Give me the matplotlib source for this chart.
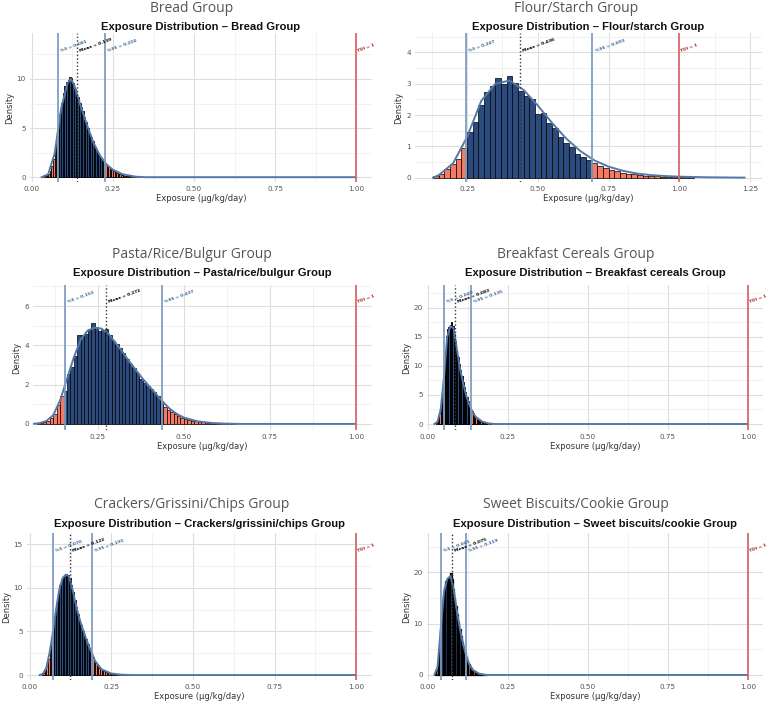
import matplotlib
matplotlib.use("Agg")
import matplotlib.pyplot as plt
from matplotlib.ticker import FixedLocator

# ---------------- data ----------------
group_titles = ["Bread Group", "Flour/Starch Group", "Pasta/Rice/Bulgur Group",
                "Breakfast Cereals Group", "Crackers/Grissini/Chips Group",
                "Sweet Biscuits/Cookie Group"]
group_names = ["Bread", "Flour/starch", "Pasta/rice/bulgur",
               "Breakfast cereals", "Crackers/grissini/chips", "Sweet biscuits/cookie"]

tdi = 1.0

p5_values = [0.081, 0.247, 0.153, 0.049, 0.070, 0.041]
mean_values = [0.139, 0.436, 0.272, 0.083, 0.122, 0.075]
p95_values = [0.224, 0.693, 0.437, 0.135, 0.191, 0.119]

bin_starts = [0.030, 0.130, 0.070, 0.024, 0.035, 0.022]
bin_widths = [0.005, 0.020, 0.010, 0.004, 0.005, 0.004]

bread_heights = [0.02, 0.05, 0.1, 0.2, 0.35, 0.6, 1.1, 1.9, 2.8, 3.6, 4.9, 6.4, 7.6, 8.6, 9.3,
                 9.7, 9.9, 10.2, 10.1, 9.6, 9.0, 8.5, 8.2, 7.6, 7.1, 6.7, 6.1, 5.6, 5.0, 4.5,
                 4.1, 3.7, 3.3, 2.9, 2.6, 2.3, 2.0, 1.8, 1.6, 1.35, 1.15, 1.0, 0.85, 0.72, 0.6,
                 0.5, 0.42, 0.35, 0.28, 0.23, 0.18, 0.14, 0.11, 0.09, 0.07, 0.05, 0.04, 0.03,
                 0.02, 0.01]
flour_heights = [0.05, 0.13, 0.28, 0.45, 0.58, 0.94, 1.45, 1.78, 2.33, 2.74, 2.92, 3.18, 3.0,
                 3.24, 3.02, 2.76, 2.6, 2.52, 2.02, 2.05, 1.73, 1.57, 1.3, 1.1, 0.99, 0.75,
                 0.67, 0.56, 0.47, 0.38, 0.31, 0.25, 0.2, 0.16, 0.13, 0.1, 0.08, 0.065, 0.05,
                 0.04, 0.03, 0.025, 0.02, 0.015, 0.012, 0.008]
pasta_heights = [0.02, 0.05, 0.1, 0.17, 0.3, 0.5, 0.95, 1.4, 1.65, 2.55, 2.9, 3.45, 4.5, 4.55,
                 4.6, 4.85, 5.15, 4.95, 4.75, 4.8, 4.85, 4.5, 4.2, 4.05, 3.85, 3.6, 3.3, 3.05,
                 2.85, 2.6, 2.3, 2.1, 1.95, 1.8, 1.6, 1.4, 1.15, 0.85, 0.72, 0.6, 0.5, 0.4,
                 0.32, 0.26, 0.2, 0.16, 0.13, 0.1, 0.08, 0.06, 0.045, 0.035, 0.025, 0.02,
                 0.015, 0.01, 0.008, 0.005]
cereal_heights = [0.1, 0.35, 0.9, 1.9, 3.3, 5.0, 8.5, 12.0, 15.2, 16.3, 16.6, 17.0, 17.5, 16.8,
                  15.5, 14.2, 12.8, 11.6, 10.4, 9.3, 8.3, 7.3, 6.4, 5.5, 4.7, 4.0, 3.4, 2.8,
                  2.3, 1.85, 1.45, 1.15, 0.9, 0.7, 0.52, 0.4, 0.3, 0.22, 0.16, 0.11, 0.08,
                  0.05, 0.03, 0.02]
cracker_heights = [0.05, 0.2, 0.5, 1.0, 1.8, 2.9, 4.2, 5.4, 6.8, 8.2, 9.4, 10.3, 10.9, 11.3,
                   11.5, 11.6, 11.5, 11.1, 10.3, 9.5, 8.6, 7.8, 7.0, 6.3, 5.7, 5.1, 4.6, 4.1,
                   3.6, 3.1, 2.6, 2.1, 1.7, 1.35, 1.05, 0.85, 0.68, 0.55, 0.44, 0.35, 0.28,
                   0.22, 0.17, 0.13, 0.1, 0.08, 0.06, 0.05, 0.04, 0.03, 0.02, 0.015, 0.01,
                   0.008, 0.005]
biscuit_heights = [0.2, 0.9, 2.5, 5.5, 9.0, 12.5, 15.2, 17.2, 18.3, 18.8, 19.0, 19.2, 19.8,
                   18.8, 16.8, 15.0, 13.4, 11.9, 10.4, 9.0, 7.7, 6.5, 5.4, 4.4, 3.5, 2.8, 2.2,
                   1.7, 1.3, 1.0, 0.75, 0.56, 0.42, 0.32, 0.24, 0.17, 0.12, 0.08, 0.05, 0.03,
                   0.02]

bread_density_x = [0.03, 0.05, 0.07, 0.09, 0.11, 0.12, 0.13, 0.15, 0.17, 0.19, 0.21, 0.23,
                   0.25, 0.28, 0.32, 0.35, 1.0]
bread_density_y = [0, 0.3, 2.4, 7.0, 9.6, 10.0, 9.4, 7.3, 5.3, 3.5, 2.2, 1.3, 0.75, 0.3,
                   0.05, 0, 0]
flour_density_x = [0.13, 0.15, 0.2, 0.25, 0.3, 0.35, 0.4, 0.45, 0.5, 0.55, 0.6, 0.65, 0.7,
                   0.75, 0.8, 0.85, 0.9, 0.95, 1.0, 1.1, 1.23]
flour_density_y = [0, 0.08, 0.45, 1.3, 2.45, 3.0, 3.1, 2.8, 2.3, 1.75, 1.25, 0.85, 0.55,
                   0.35, 0.22, 0.13, 0.08, 0.05, 0.03, 0.01, 0.0]
pasta_density_x = [0.06, 0.08, 0.10, 0.12, 0.14, 0.16, 0.18, 0.20, 0.22, 0.24, 0.26, 0.28,
                   0.30, 0.32, 0.34, 0.36, 0.38, 0.40, 0.42, 0.44, 0.46, 0.48, 0.50, 0.54,
                   0.58, 0.62, 0.66, 1.0]
pasta_density_y = [0, 0.04, 0.15, 0.45, 1.2, 2.3, 3.4, 4.3, 4.75, 4.9, 4.85, 4.6, 4.15, 3.7,
                   3.2, 2.75, 2.3, 1.9, 1.5, 1.1, 0.75, 0.5, 0.32, 0.13, 0.05, 0.015, 0, 0]
cereal_density_x = [0.02, 0.03, 0.04, 0.05, 0.06, 0.07, 0.08, 0.09, 0.10, 0.11, 0.12, 0.13,
                    0.14, 0.15, 0.17, 0.19, 0.21, 1.0]
cereal_density_y = [0, 0.4, 2.6, 8.0, 15.0, 16.8, 16.5, 13.0, 9.6, 7.0, 4.8, 3.2, 2.0, 1.2,
                    0.4, 0.1, 0, 0]
cracker_density_x = [0.03, 0.04, 0.05, 0.06, 0.07, 0.08, 0.09, 0.10, 0.11, 0.12, 0.13, 0.14,
                     0.15, 0.16, 0.17, 0.18, 0.20, 0.22, 0.25, 0.28, 0.31, 1.0]
cracker_density_y = [0, 0.15, 0.8, 2.5, 4.8, 7.5, 9.8, 11.1, 11.5, 11.3, 9.9, 8.2, 6.7, 5.5,
                     4.4, 3.4, 1.6, 0.65, 0.17, 0.04, 0, 0]
biscuit_density_x = [0.02, 0.03, 0.04, 0.05, 0.06, 0.07, 0.08, 0.09, 0.10, 0.11, 0.12, 0.13,
                     0.14, 0.16, 0.18, 0.19, 1.0]
biscuit_density_y = [0, 1.6, 9.0, 16.2, 18.7, 19.3, 16.9, 12.6, 9.0, 6.0, 3.6, 2.0, 1.0, 0.25,
                     0.04, 0, 0]

all_heights = [bread_heights, flour_heights, pasta_heights,
               cereal_heights, cracker_heights, biscuit_heights]
all_density_x = [bread_density_x, flour_density_x, pasta_density_x,
                 cereal_density_x, cracker_density_x, biscuit_density_x]
all_density_y = [bread_density_y, flour_density_y, pasta_density_y,
                 cereal_density_y, cracker_density_y, biscuit_density_y]

# ---------------- layout (pixels) ----------------
W, H = 767, 705
# left, top, right, bottom of the plot panel
panel_px = [(30, 33, 372, 182), (415, 33, 762, 182),
            (33, 285, 372, 430), (427, 285, 763, 430),
            (27, 533, 372, 680), (427, 533, 763, 680)]
xlims = [(-0.006, 1.049), (0.066, 1.292), (0.061, 1.047),
         (-0.003, 1.047), (-0.009, 1.049), (-0.003, 1.047)]
ylims = [(-0.49, 14.68), (-0.14, 4.62), (-0.31, 7.07),
         (-1.03, 23.9), (-0.57, 16.27), (-0.98, 27.7)]
xticks_major = [[0, 0.25, 0.5, 0.75, 1.0], [0.25, 0.5, 0.75, 1.0, 1.25],
                [0.25, 0.5, 0.75, 1.0], [0, 0.25, 0.5, 0.75, 1.0],
                [0, 0.25, 0.5, 0.75, 1.0], [0, 0.25, 0.5, 0.75, 1.0]]
yticks_major = [[0, 5, 10], [0, 1, 2, 3, 4], [0, 2, 4, 6],
                [0, 5, 10, 15, 20], [0, 5, 10, 15], [0, 10, 20]]
edge_widths = [0.6, 0.5, 0.5, 0.65, 0.6, 0.9]
title_y = [9, 9, 255, 255, 505, 505]
subtitle_y = [27, 27, 273, 273, 524, 524]
col_center = [192, 576, 192, 576, 192, 576]

BLUE = "#2b4b7f"
SALMON = "#f47a63"
LINE_BLUE = "#7f9dc2"
DENS_BLUE = "#5479a6"
TDI_RED = "#d86a6a"
GRID = "#dedede"
GRID_MINOR = "#ececec"

fig = plt.figure(figsize=(W / 100, H / 100), dpi=100)
fig.patch.set_facecolor("white")

for i in range(6):
    l, t, r, b = panel_px[i]
    ax = fig.add_axes([l / W, 1 - b / H, (r - l) / W, (b - t) / H])
    ax.set_xlim(*xlims[i])
    ax.set_ylim(*ylims[i])

    heights = all_heights[i]
    lefts = [bin_starts[i] + k * bin_widths[i] for k in range(len(heights))]
    colors = []
    for x0 in lefts:
        c = x0 + bin_widths[i] / 2
        colors.append(BLUE if p5_values[i] <= c <= p95_values[i] else SALMON)
    ax.bar(lefts, heights, width=bin_widths[i], align="edge", color=colors,
           edgecolor="black", linewidth=edge_widths[i], zorder=2)

    ax.plot(all_density_x[i], all_density_y[i], color=DENS_BLUE, lw=1.4, zorder=3)

    ax.axvline(p5_values[i], color=LINE_BLUE, lw=1.3, zorder=4)
    ax.axvline(p95_values[i], color=LINE_BLUE, lw=1.3, zorder=4)
    ax.axvline(mean_values[i], color="#333333", lw=1.0, ls=(0, (1, 1.6)), zorder=4)
    ax.axvline(tdi, color=TDI_RED, lw=1.3, zorder=4)

    labels = [(p5_values[i], "%%5 = %.3f" % p5_values[i], "#3e6699", 2),
              (mean_values[i], "Mean = %.3f" % mean_values[i], "black", 2),
              (p95_values[i], "%%95 = %.3f" % p95_values[i], "#3e6699", 2),
              (tdi, "TDI = 1", "#b02a2a", 1)]
    for xv, txt, col, off in labels:
        ax.annotate(txt, xy=(xv, 0.88), xycoords=("data", "axes fraction"),
                    xytext=(off, 0), textcoords="offset points", rotation=20,
                    rotation_mode="anchor", ha="left", va="center", fontsize=3.2,
                    fontweight="bold", color=col, annotation_clip=False, zorder=5)

    # grid like theme_minimal
    xt = xticks_major[i]
    yt = yticks_major[i]
    ax.set_xticks(xt)
    ax.set_yticks(yt)
    ax.xaxis.set_minor_locator(FixedLocator([v + 0.125 for v in xt] + [xt[0] - 0.125]))
    ystep = yt[1] - yt[0]
    ax.yaxis.set_minor_locator(FixedLocator([v + ystep / 2 for v in yt]))
    ax.grid(True, which="major", color=GRID, lw=0.8, zorder=0)
    ax.grid(True, which="minor", color=GRID_MINOR, lw=0.5, zorder=0)
    ax.set_axisbelow(True)
    ax.set_xticklabels(["%.2f" % v for v in xt])
    ax.set_yticklabels([str(v) for v in yt])
    ax.tick_params(which="both", length=0, labelsize=5.2, labelcolor="#555555", pad=3)
    for s in ax.spines.values():
        s.set_visible(False)
    ax.set_xlabel("Exposure (µg/kg/day)", fontsize=6, color="#333333", labelpad=1)
    ax.set_ylabel("Density", fontsize=6, color="#333333", labelpad=2)

    fig.text(col_center[i] / W, 1 - title_y[i] / H, group_titles[i], ha="center",
             va="center", fontsize=10, color="#555555", family="Open Sans")
    fig.text(((l + r) / 2) / W, 1 - subtitle_y[i] / H,
             "Exposure Distribution – %s Group" % group_names[i], ha="center",
             va="center", fontsize=8.1, fontweight="bold", color="#111111",
             family="Liberation Sans")

fig.savefig("out.png", dpi=100)
